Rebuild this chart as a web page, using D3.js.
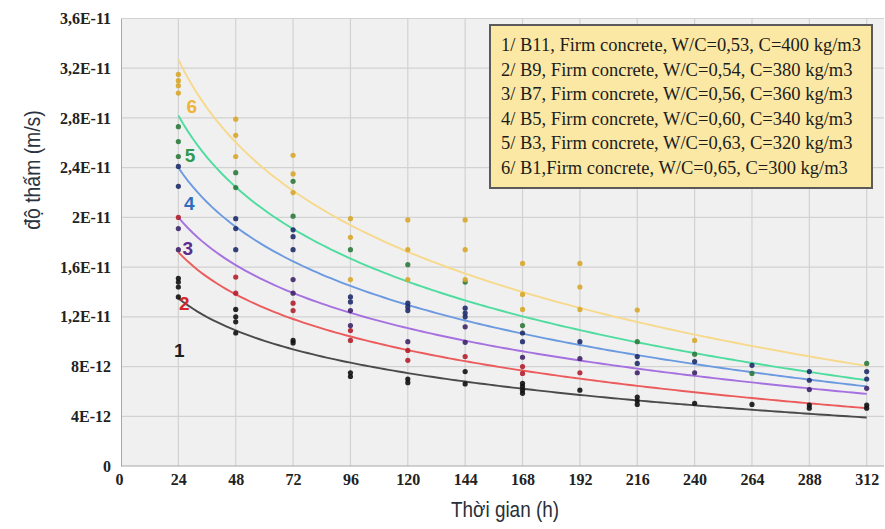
<!DOCTYPE html>
<html><head><meta charset="utf-8">
<script src="https://cdn.jsdelivr.net/npm/d3@7"></script>
<style>body{margin:0;background:#fff}svg{display:block}</style>
</head><body><svg id="c" width="885" height="529"></svg>
<script>
// ---- data (values in units of 1E-12 m/s) ----
const xTicks = [0,24,48,72,96,120,144,168,192,216,240,264,288,312];
const yTicks = [0,4,8,12,16,20,24,28,32,36];
const yTickLabels = ["0","4E-12","8E-12","1,2E-11","1,6E-11","2E-11","2,4E-11","2,8E-11","3,2E-11","3,6E-11"];
const legendLabels = [
  "1/ B11, Firm concrete, W/C=0,53, C=400 kg/m3",
  "2/ B9, Firm concrete, W/C=0,54, C=380 kg/m3",
  "3/ B7, Firm concrete, W/C=0,56, C=360 kg/m3",
  "4/ B5, Firm concrete, W/C=0,60, C=340 kg/m3",
  "5/ B3, Firm concrete, W/C=0,63, C=320 kg/m3",
  "6/ B1,Firm concrete, W/C=0,65, C=300 kg/m3"
];
const seriesNames = ["1","2","3","4","5","6"];
const points1 = [[24,15.1],[24,14.8],[24,14.4],[24,13.6],[48,12.6],[48,12.0],[48,11.6],[48,10.7],[72,10.1],[72,9.9],[96,7.5],[96,7.2],[120,7.0],[120,6.7],[144,7.6],[144,6.6],[168,6.65],[168,6.4],[168,6.1],[168,5.85],[192,6.1],[216,5.55],[216,5.25],[216,4.95],[240,5.05],[264,4.95],[288,4.9],[288,4.65],[312,4.9],[312,4.65]];
const points2 = [[24,20.0],[48,15.2],[48,13.9],[72,13.1],[72,12.5],[96,10.9],[96,10.1],[120,9.3],[120,8.5],[144,8.8],[168,8.0],[168,7.45],[192,7.5]];
const points3 = [[24,19.1],[24,17.4],[72,15.0],[72,13.9],[96,12.5],[96,11.3],[120,10.0],[144,11.2],[144,9.95],[168,8.75],[192,8.65],[216,7.5],[240,7.5],[288,6.15],[312,6.25]];
const points4 = [[24,24.1],[24,22.5],[48,19.9],[48,19.1],[48,17.4],[72,19.0],[72,18.45],[72,17.4],[96,13.6],[96,13.2],[120,13.1],[120,12.8],[120,12.5],[144,12.7],[144,12.3],[144,12.0],[168,10.7],[168,10.0],[192,10.0],[216,8.8],[216,8.25],[240,8.4],[264,8.1],[288,7.6],[288,6.9],[312,7.6],[312,7.0]];
const points5 = [[24,27.3],[24,26.1],[24,24.9],[48,23.6],[48,22.4],[72,22.9],[72,20.1],[96,17.4],[120,16.2],[144,14.8],[168,11.3],[216,10.0],[240,9.0],[264,7.45],[312,8.25]];
const points6 = [[24,31.5],[24,31.0],[24,30.6],[24,30.0],[48,27.9],[48,26.6],[48,24.9],[72,25.0],[72,23.5],[72,22.0],[96,19.9],[96,18.4],[96,15.0],[120,19.8],[120,17.4],[120,15.0],[144,19.8],[144,17.4],[144,15.0],[168,16.3],[168,13.8],[168,12.6],[192,16.3],[192,14.4],[192,12.6],[216,12.55],[240,10.1]];
// logarithmic trendline values read at t=24 h and t=312 h
const trendAt24  = [13.5, 17.2, 20.0, 24.0, 28.2, 32.7];
const trendAt312 = [3.9, 4.65, 5.8, 6.4, 6.9, 8.05];
// series number annotations (data coords)
const labelX = [24.4, 26.5, 27.9, 28.6, 28.9, 29.6];
const labelY = [9.3, 13.1, 17.5, 21.1, 25.0, 28.9];

// ---- styles ----
const curveColors = ["#4a4a4a","#ec5b5b","#a570df","#6b9ae0","#4fdc9f","#f7d98c"];
const markColors  = ["#111111","#b3202e","#3f2468","#1f2c6a","#2c7a3c","#d8a72a"];
const labelColors = ["#1e1e1e","#d6262b","#5a2d8c","#2f6ebd","#2e9a50","#efb43a"];
const allPoints = [points1,points2,points3,points4,points5,points6];

const svg = d3.select("#c");
const L=121, R=884, T=18.5, B=466;
const x = d3.scaleLinear().domain([0,312]).range([L, 866.7]);
const y = d3.scaleLinear().domain([0,36]).range([B, T]);

svg.append("rect").attr("x",L).attr("y",T).attr("width",R-L).attr("height",B-T).attr("fill","#f0f0f0");

// grid
svg.append("g").selectAll("line").data(yTicks.slice(1)).join("line")
  .attr("x1",L).attr("x2",R).attr("y1",d=>y(d)).attr("y2",d=>y(d))
  .attr("stroke","#d2d2d2").attr("stroke-width",1.2);
svg.append("g").selectAll("line").data(xTicks.slice(1)).join("line")
  .attr("y1",T).attr("y2",B).attr("x1",d=>x(d)).attr("x2",d=>x(d))
  .attr("stroke","#d2d2d2").attr("stroke-width",1.2);

// axes
const xAxis = svg.append("g").attr("transform",`translate(0,${B})`)
  .call(d3.axisBottom(x).tickValues(xTicks).tickSize(0).tickPadding(8));
xAxis.select(".domain").attr("stroke","#a8a8a8").attr("d",`M${L},0H${R}`);
const yAxis = svg.append("g").attr("transform",`translate(${L},0)`)
  .call(d3.axisLeft(y).tickValues(yTicks).tickSize(0).tickPadding(10)
    .tickFormat((d,i)=>yTickLabels[i]));
yAxis.select(".domain").attr("stroke","#a8a8a8");
svg.selectAll(".tick text").attr("font-family","Liberation Serif, Times New Roman, serif")
  .attr("font-size",16).attr("font-weight","bold").attr("fill","#222");
xAxis.selectAll(".tick text").filter(d=>d===0).attr("dx",-2);

// trendlines
const line = d3.line().x(d=>x(d[0])).y(d=>y(d[1]));
trendAt24.forEach((v0,i)=>{
  const b = (trendAt312[i]-v0)/Math.log(312/24);
  const pts = d3.range(24,312.01,2).map(t=>[t, v0 + b*Math.log(t/24)]);
  svg.append("path").attr("d",line(pts)).attr("fill","none")
    .attr("stroke",curveColors[i]).attr("stroke-width",1.9);
});

// markers
allPoints.forEach((pts,i)=>{
  svg.append("g").selectAll("circle").data(pts).join("circle")
    .attr("cx",d=>x(d[0])).attr("cy",d=>y(d[1])).attr("r",2.6)
    .attr("fill",markColors[i]).attr("opacity",0.9);
});

// series labels
svg.append("g").selectAll("text").data(seriesNames).join("text")
  .attr("x",(d,i)=>x(labelX[i])).attr("y",(d,i)=>y(labelY[i]))
  .attr("text-anchor","middle").attr("dominant-baseline","central")
  .attr("font-family","Liberation Sans, Arial, sans-serif").attr("font-weight","bold")
  .attr("font-size",19).attr("fill",(d,i)=>labelColors[i]).text(d=>d);

// legend box
const lg = svg.append("g");
lg.append("rect").attr("x",490).attr("y",25).attr("width",382).attr("height",163)
  .attr("fill","#fbe8a4").attr("stroke","#5a5a5a").attr("stroke-width",2);
lg.selectAll("text").data(legendLabels).join("text")
  .attr("x",501).attr("y",(d,i)=>51+i*24.5)
  .attr("font-family","Liberation Serif, Times New Roman, serif").attr("font-size",18.5)
  .attr("fill","#1c1c1c").text(d=>d);

// axis titles
svg.append("text").attr("transform","translate(505,517) scale(0.86,1)").attr("text-anchor","middle")
  .attr("font-family","Liberation Sans, Arial, sans-serif")
  .attr("font-size",22).attr("fill","#2a2f38").text("Thời gian (h)");
svg.append("text").attr("transform","translate(40,170) rotate(-90) scale(0.88,1)").attr("text-anchor","middle")
  .attr("font-family","Liberation Sans, Arial, sans-serif")
  .attr("font-size",22).attr("fill","#2a3340").text("độ thấm (m/s)");
</script></body></html>
